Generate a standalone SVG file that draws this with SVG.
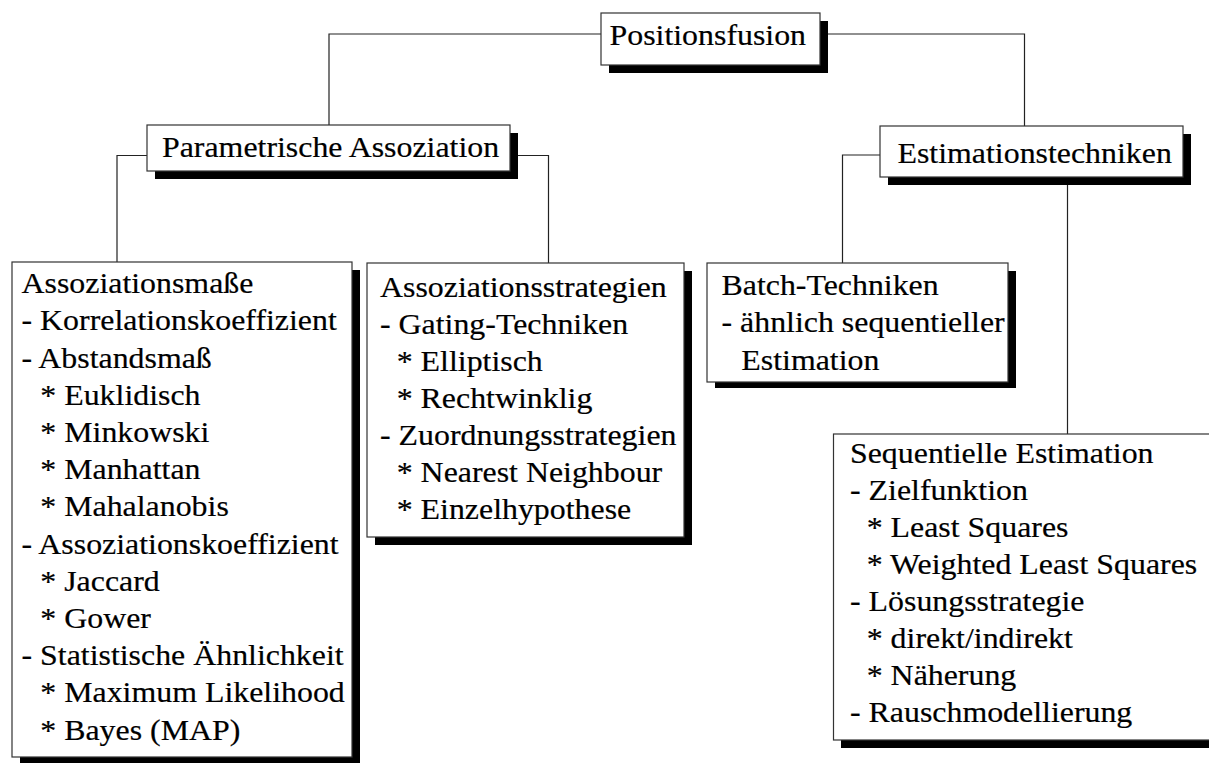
<svg xmlns="http://www.w3.org/2000/svg" width="1209" height="763" viewBox="0 0 1209 763">
  <style>
    .box { fill: #ffffff; stroke: #333333; stroke-width: 1.2; }
    .shadow { fill: #000000; }
    .wire { fill: none; stroke: #222222; stroke-width: 1.2; }
    text { font-family: "Liberation Serif", "Times New Roman", serif; font-size: 30.5px; fill: #000000; stroke: #000000; stroke-width: 0.2; }
  </style>

  <!-- tree connectors -->
  <g id="connectors">
    <path class="wire" d="M601,34 H329 V125"/>
    <path class="wire" d="M828,34 H1024.5 V126"/>
    <path class="wire" d="M147,155.5 H117 V262"/>
    <path class="wire" d="M517,155.5 H548.5 V263"/>
    <path class="wire" d="M880,155 H842.5 V263"/>
    <path class="wire" d="M1067.5,185 V434"/>
  </g>

  <!-- root -->
  <g id="positionsfusion">
    <rect class="shadow" x="609" y="21" width="219" height="52"/>
    <rect class="box" x="601" y="13" width="219" height="52"/>
    <g transform="translate(609.5,45) scale(1.045,1)"><text x="0" y="0">Positionsfusion</text></g>
  </g>

  <g id="parametrische-assoziation">
    <rect class="shadow" x="155" y="133" width="363" height="46"/>
    <rect class="box" x="147" y="125" width="363" height="46"/>
    <g transform="translate(162,156.5) scale(1.045,1)"><text x="0" y="0">Parametrische Assoziation</text></g>
  </g>

  <g id="estimationstechniken">
    <rect class="shadow" x="888" y="134" width="303" height="51"/>
    <rect class="box" x="880" y="126" width="303" height="51"/>
    <g transform="translate(897.5,163) scale(1.045,1)"><text x="0" y="0">Estimationstechniken</text></g>
  </g>

  <g id="assoziationsmasse">
    <rect class="shadow" x="20" y="270" width="340" height="500"/>
    <rect class="box" x="12" y="262" width="340" height="495"/>
    <g transform="translate(21.5,0) scale(1.045,1)">
      <text x="0" y="293.3">Assoziationsmaße</text>
      <text x="0" y="330.5">- Korrelationskoeffizient</text>
      <text x="0" y="367.7">- Abstandsmaß</text>
      <text x="18" y="404.9">* Euklidisch</text>
      <text x="18" y="442.1">* Minkowski</text>
      <text x="18" y="479.3">* Manhattan</text>
      <text x="18" y="516.5">* Mahalanobis</text>
      <text x="0" y="553.7">- Assoziationskoeffizient</text>
      <text x="18" y="590.9">* Jaccard</text>
      <text x="18" y="628.1">* Gower</text>
      <text x="0" y="665.3">- Statistische Ähnlichkeit</text>
      <text x="18" y="702.5">* Maximum Likelihood</text>
      <text x="18" y="739.7">* Bayes (MAP)</text>
    </g>
  </g>

  <g id="assoziationsstrategien">
    <rect class="shadow" x="375" y="271" width="317" height="274"/>
    <rect class="box" x="367" y="263" width="317" height="274"/>
    <g transform="translate(380,0) scale(1.045,1)">
      <text x="0" y="296.7">Assoziationsstrategien</text>
      <text x="0" y="333.7">- Gating-Techniken</text>
      <text x="16" y="370.7">* Elliptisch</text>
      <text x="16" y="407.7">* Rechtwinklig</text>
      <text x="0" y="444.7">- Zuordnungsstrategien</text>
      <text x="16" y="481.7">* Nearest Neighbour</text>
      <text x="16" y="518.7">* Einzelhypothese</text>
    </g>
  </g>

  <g id="batch-techniken">
    <rect class="shadow" x="715" y="271" width="301" height="117"/>
    <rect class="box" x="707" y="263" width="301" height="119"/>
    <g transform="translate(721.5,0) scale(1.045,1)">
      <text x="0" y="295">Batch-Techniken</text>
      <text x="0" y="332.5">- ähnlich sequentieller</text>
      <text x="19" y="370">Estimation</text>
    </g>
  </g>

  <g id="sequentielle-estimation">
    <rect class="shadow" x="841" y="442" width="380" height="306"/>
    <rect class="box" x="833.5" y="434" width="380" height="306"/>
    <g transform="translate(850,0) scale(1.045,1)">
      <text x="0" y="463.3">Sequentielle Estimation</text>
      <text x="0" y="500.3">- Zielfunktion</text>
      <text x="16" y="537.3">* Least Squares</text>
      <text x="16" y="574.3">* Weighted Least Squares</text>
      <text x="0" y="611.3">- Lösungsstrategie</text>
      <text x="16" y="648.3">* direkt/indirekt</text>
      <text x="16" y="685.3">* Näherung</text>
      <text x="0" y="722.3">- Rauschmodellierung</text>
    </g>
  </g>
</svg>
